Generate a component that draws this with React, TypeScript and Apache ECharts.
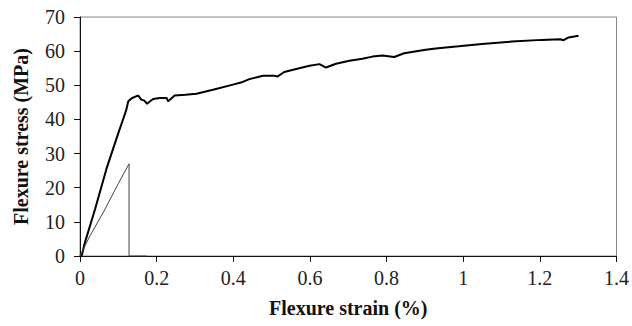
import React, { useEffect, useRef } from "react";
import * as echarts from "echarts";

const strainA = [0, 0.005, 0.013, 0.04, 0.069, 0.1, 0.12, 0.126, 0.135, 0.143, 0.152, 0.16, 0.168, 0.175, 0.183, 0.191, 0.208, 0.226, 0.23, 0.247, 0.275, 0.304, 0.347, 0.399, 0.42, 0.442, 0.477, 0.507, 0.516, 0.533, 0.572, 0.599, 0.625, 0.642, 0.668, 0.703, 0.737, 0.763, 0.789, 0.82, 0.846, 0.902, 0.928, 0.988, 1.049, 1.127, 1.205, 1.253, 1.262, 1.275, 1.301];
const stressA = [0, 0.3, 4, 14, 25.5, 36, 42.5, 45.3, 46.2, 46.6, 47.0, 45.8, 45.5, 44.6, 45.3, 46.0, 46.3, 46.3, 45.3, 47.0, 47.2, 47.5, 48.7, 50.2, 50.8, 51.8, 52.8, 52.8, 52.6, 53.9, 55.0, 55.7, 56.2, 55.2, 56.3, 57.2, 57.8, 58.4, 58.7, 58.3, 59.4, 60.4, 60.8, 61.4, 62.1, 62.8, 63.3, 63.5, 63.2, 64.0, 64.5];

const strainB = [0, 0.026, 0.06, 0.1, 0.128, 0.128, 0.175];
const stressB = [0, 5.9, 12.6, 21.2, 27.0, 0, 0];

const xTicks = [0, 0.2, 0.4, 0.6, 0.8, 1, 1.2, 1.4];
const yTicks = [0, 10, 20, 30, 40, 50, 60, 70];

export default function App() {
  const ref = useRef<HTMLDivElement>(null);
  useEffect(() => {
    if (!ref.current) return;
    const chart = echarts.init(ref.current, null, { renderer: "svg" });
    const font = "Liberation Serif";
    chart.setOption({
      animation: false,
      backgroundColor: "#fff",
      grid: { left: 80, right: 14, top: 17, bottom: 70, show: true, borderColor: "#888", borderWidth: 1 },
      xAxis: {
        type: "value",
        min: xTicks[0],
        max: xTicks[xTicks.length - 1],
        interval: 0.2,
        name: "Flexure strain (%)",
        nameLocation: "middle",
        nameGap: 42,
        nameTextStyle: { fontFamily: font, fontWeight: "bold", fontSize: 20, color: "#111" },
        axisLine: { show: true, lineStyle: { color: "#111", width: 1 } },
        axisTick: { show: true, inside: false, length: 6, lineStyle: { color: "#111" } },
        axisLabel: { fontFamily: font, fontSize: 20, color: "#222", margin: 12 },
        splitLine: { show: false },
      },
      yAxis: {
        type: "value",
        min: yTicks[0],
        max: yTicks[yTicks.length - 1],
        interval: 10,
        name: "Flexure stress (MPa)",
        nameLocation: "middle",
        nameGap: 49,
        nameRotate: 90,
        nameTextStyle: { fontFamily: font, fontWeight: "bold", fontSize: 20, color: "#111" },
        axisLine: { show: true, lineStyle: { color: "#111", width: 1 } },
        axisTick: { show: true, inside: false, length: 6, lineStyle: { color: "#111" } },
        axisLabel: { fontFamily: font, fontSize: 20, color: "#222", margin: 15 },
        splitLine: { show: false },
      },
      series: [
        {
          type: "line",
          data: strainA.map((x, i) => [x, stressA[i]]),
          showSymbol: false,
          lineStyle: { color: "#000", width: 2 },
        },
        {
          type: "line",
          data: strainB.map((x, i) => [x, stressB[i]]),
          showSymbol: false,
          lineStyle: { color: "#444", width: 1 },
        },
      ],
    });
    return () => chart.dispose();
  }, []);
  return <div ref={ref} style={{ position: "absolute", left: 0, top: 0, width: 632, height: 326 }} />;
}
